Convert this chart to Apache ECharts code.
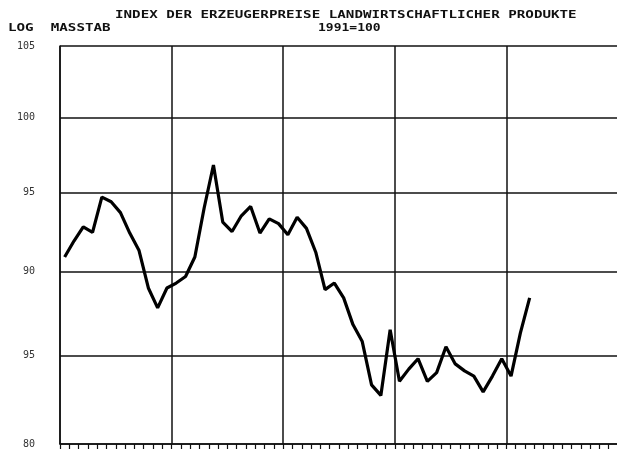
<!DOCTYPE html>
<html>
<head>
<meta charset="utf-8">
<script src="https://cdn.jsdelivr.net/npm/echarts@6/dist/echarts.min.js"></script>
<style>
  html, body { margin: 0; padding: 0; background: #fff; overflow: hidden; }
  /* a few px wider than the window so the plot's right border falls off-screen */
  #chart { width: 620px; height: 457px; }
</style>
</head>
<body>
<div id="chart"></div>
<script>
// 60 monthly slots, 5 years on the axis
var months = [];
for (var i = 0; i < 60; i++) {
  months.push('J' + (Math.floor(i / 12) + 1) + '-M' + (i % 12 + 1));
}

// index values, one per month
var index = [
  90.9, 91.9, 92.8, 92.45, 94.7, 94.4, 93.7, 92.4, 91.3, 89.0, 87.8, 89.0,
  89.3, 89.7, 90.9, 94.0, 96.8, 93.1, 92.5, 93.5, 94.1, 92.4, 93.3, 93.0,
  92.3, 93.4, 92.7, 91.2, 88.9, 89.3, 88.4, 86.8, 85.8, 83.3, 82.7, 86.5,
  83.5, 84.2, 84.8, 83.5, 84.0, 85.5, 84.5, 84.1, 83.8, 82.9, 83.8, 84.8,
  83.8, 86.3, 88.4
];

var yTicks = [80, 85, 90, 95, 100, 105];
var yTickLabels = ['80', '95', '90', '95', '100', '105'];

var chart = echarts.init(document.getElementById('chart'));

var plotFont = '"DejaVu Sans Mono", monospace';

var option = {
  backgroundColor: '#fff',
  animation: false,
  grid: { left: 60, right: 2, top: 46, bottom: 13, containLabel: false },
  graphic: [
    {
      type: 'text', left: 115, top: 10, scaleX: 1.42,
      style: { text: 'INDEX DER ERZEUGERPREISE LANDWIRTSCHAFTLICHER PRODUKTE', font: 'bold 10px ' + plotFont, fill: '#111' }
    },
    {
      type: 'text', left: 8, top: 23, scaleX: 1.42,
      style: { text: 'LOG  MASSTAB', font: 'bold 10px ' + plotFont, fill: '#111' }
    },
    {
      type: 'text', left: 318, top: 23, scaleX: 1.3,
      style: { text: '1991=100', font: 'bold 10px ' + plotFont, fill: '#111' }
    }
  ],
  xAxis: {
    type: 'category',
    data: months,
    boundaryGap: true,
    axisLine: { lineStyle: { color: '#111', width: 1.5 } },
    axisTick: { show: true, interval: 0, inside: false, length: 5, lineStyle: { color: '#111', width: 1.2 } },
    axisLabel: { show: false },
    splitLine: {
      show: true,
      interval: 11,
      lineStyle: { color: '#111', width: 1.5 }
    }
  },
  yAxis: {
    type: 'log',
    logBase: 10,
    min: 80,
    max: 105,
    axisLine: { show: true, lineStyle: { color: '#111', width: 1.5 } },
    axisTick: { show: false, customValues: yTicks },
    axisLabel: {
      customValues: yTicks,
      margin: 25,
      color: '#333',
      fontFamily: plotFont,
      fontSize: 10,
      formatter: function (v) {
        var k = yTicks.indexOf(Math.round(v));
        return k >= 0 ? yTickLabels[k] : '';
      }
    },
    splitLine: { show: true, lineStyle: { color: '#111', width: 1.5 } }
  },
  series: [{
    type: 'line',
    data: index,
    symbol: 'none',
    lineStyle: { color: '#000', width: 3.2 }
  }]
};

chart.setOption(option);
</script>
</body>
</html>
